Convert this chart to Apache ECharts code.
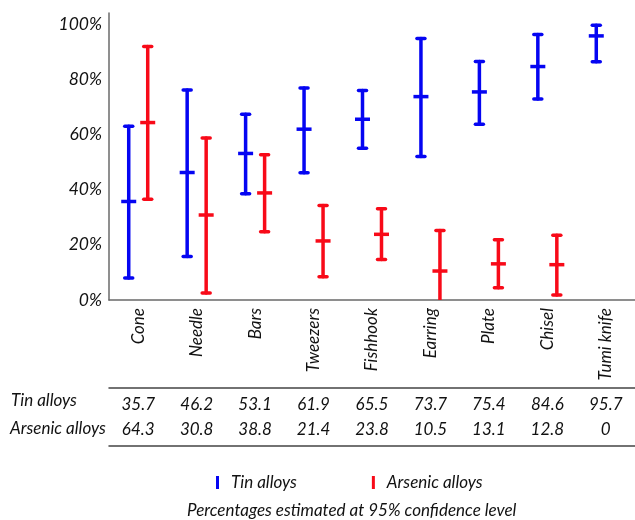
<!DOCTYPE html>
<html>
<head>
<meta charset="utf-8">
<script src="https://cdn.jsdelivr.net/npm/echarts@6/dist/echarts.min.js"></script>
<style>html,body{margin:0;padding:0;background:#fff}#c{width:635px;height:520px}</style>
</head>
<body>
<div id="c"></div>
<script>
// ---- data ----
const categories = ['Cone','Needle','Bars','Tweezers','Fishhook','Earring','Plate','Chisel','Tumi knife'];
const tinValues = [35.7, 46.2, 53.1, 61.9, 65.5, 73.7, 75.4, 84.6, 95.7];
const tinLow    = [8.0, 15.8, 38.5, 46.1, 55.0, 52.0, 63.7, 72.8, 86.3];
const tinHigh   = [63.0, 76.1, 67.3, 76.8, 75.9, 94.8, 86.4, 96.2, 99.6];
const arsenicValues = [64.3, 30.8, 38.8, 21.4, 23.8, 10.5, 13.1, 12.8, 0];
const arsenicLow    = [36.5, 2.5, 24.7, 8.4, 14.7, -4.2, 4.4, 1.8, null];
const arsenicHigh   = [91.9, 58.7, 52.6, 34.2, 33.1, 25.2, 21.8, 23.5, null];
const yTicks = [0, 20, 40, 60, 80, 100];

const FONT = 'Lato';
const TXT = '#111';
const BLUE = '#0505f2';
const RED = '#f80a18';

function makeRender(offset, color) {
  return function (params, api) {
    const lo = api.value(1), mid = api.value(2), hi = api.value(3);
    if (lo == null || isNaN(lo) || hi == null || isNaN(hi)) return null;
    const cat = api.value(0);
    const x = api.coord([cat, 0])[0] + offset;
    const yLo = api.coord([cat, lo])[1];
    const yMid = api.coord([cat, mid])[1];
    const yHi = api.coord([cat, hi])[1];
    const st = { stroke: color, lineWidth: 3.5, lineCap: 'round' };
    return {
      type: 'group',
      children: [
        { type: 'line', shape: { x1: x, y1: yLo, x2: x, y2: yHi }, style: st },
        { type: 'line', shape: { x1: x - 4, y1: yHi, x2: x + 4, y2: yHi }, style: st },
        { type: 'line', shape: { x1: x - 4, y1: yLo, x2: x + 4, y2: yLo }, style: st },
        { type: 'line', shape: { x1: x - 7.5, y1: yMid, x2: x + 7.5, y2: yMid }, style: { stroke: color, lineWidth: 3.5, lineCap: 'butt' } }
      ]
    };
  };
}

const tinData = categories.map((c, i) => [i, tinLow[i], tinValues[i], tinHigh[i]]);
const arsData = categories.map((c, i) => [i, arsenicLow[i], arsenicValues[i], arsenicHigh[i]]);

const labelStyle = { fontFamily: FONT, fontStyle: 'italic', fontSize: 17, color: TXT };

const chart = echarts.init(document.getElementById('c'), null, { renderer: 'canvas' });
chart.setOption({
  animation: false,
  backgroundColor: '#fff',
  grid: { left: 109, width: 530, top: 13, bottom: 220, containLabel: false },
  xAxis: [
    {
      type: 'category', data: categories, boundaryGap: true,
      axisLine: { show: true, lineStyle: { color: '#6a6a6a', width: 1.5 } },
      axisTick: { show: false },
      axisLabel: Object.assign({ rotate: 90, margin: 8, interval: 0 }, labelStyle),
      splitLine: { show: false }
    },
    {
      type: 'category', data: categories, position: 'bottom', offset: 88, gridIndex: 0,
      axisLine: { show: true, lineStyle: { color: '#444', width: 1.5 } },
      axisTick: { show: false },
      axisLabel: Object.assign({ margin: 8, interval: 0, formatter: (v, i) => String(tinValues[i]) }, labelStyle),
      splitLine: { show: false }
    },
    {
      type: 'category', data: categories, position: 'bottom', offset: 146, gridIndex: 0,
      axisLine: { show: true, lineStyle: { color: '#444', width: 1.5 } },
      axisTick: { show: false },
      axisLabel: Object.assign({ inside: true, margin: 8, interval: 0, formatter: (v, i) => String(arsenicValues[i]) }, labelStyle),
      splitLine: { show: false }
    }
  ],
  yAxis: {
    type: 'value', min: 0, max: 104, interval: 20,
    axisLine: { show: true, lineStyle: { color: '#6a6a6a', width: 1.5 } },
    axisTick: { show: false },
    splitLine: { show: false },
    axisLabel: Object.assign({}, labelStyle, {
      fontSize: 17.5, margin: 7,
      formatter: v => (yTicks.indexOf(v) >= 0 ? v + '%' : '')
    })
  },
  legend: {
    data: ['Tin alloys', 'Arsenic alloys'],
    left: 211, top: 469,
    icon: 'rect', itemWidth: 3, itemHeight: 13, itemGap: 75,
    textStyle: Object.assign({}, labelStyle, { padding: [0, 0, 0, 7] })
  },
  graphic: [
    { type: 'text', left: 11, top: 392, style: { text: 'Tin alloys', font: 'italic 17px ' + FONT, fill: TXT } },
    { type: 'text', left: 10, top: 420, style: { text: 'Arsenic alloys', font: 'italic 17px ' + FONT, fill: TXT } },
    { type: 'text', left: 187, top: 502, style: { text: 'Percentages estimated at 95% confidence level', font: 'italic 17px ' + FONT, fill: TXT } }
  ],
  series: [
    {
      name: 'Tin alloys', type: 'custom', renderItem: makeRender(-9.5, BLUE),
      itemStyle: { color: BLUE }, data: tinData, clip: true,
      encode: { x: 0, y: [1, 2, 3] }
    },
    {
      name: 'Arsenic alloys', type: 'custom', renderItem: makeRender(9.5, RED),
      itemStyle: { color: RED }, data: arsData, clip: true,
      encode: { x: 0, y: [1, 2, 3] }
    }
  ]
});
</script>
</body>
</html>
